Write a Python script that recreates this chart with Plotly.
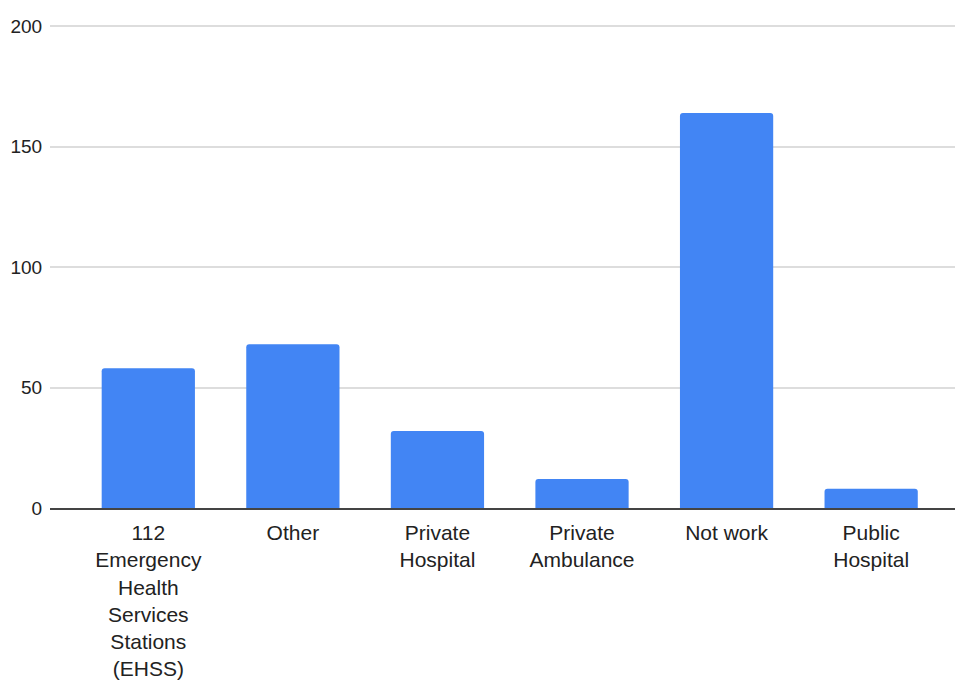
import plotly.graph_objects as go

categories = ["112<br>Emergency<br>Health<br>Services<br>Stations<br>(EHSS)", "Other",
              "Private<br>Hospital", "Private<br>Ambulance", "Not work", "Public<br>Hospital"]
values = [58, 68, 32, 12, 164, 8]
y_ticks = [0, 50, 100, 150, 200]

fig = go.Figure(go.Bar(x=list(range(len(categories))), y=values,
                       marker=dict(color="#4285F4", line=dict(width=0))))

font = "Liberation Sans, Arial, sans-serif"
fig.update_layout(
    width=955, height=687,
    margin=dict(l=50, r=0, t=23.6, b=179),
    plot_bgcolor="white", paper_bgcolor="white",
    bargap=0.355, barcornerradius=3,
    font=dict(family=font, size=21, color="#222222"),
    showlegend=False,
)
fig.update_xaxes(
    tickmode="array", tickvals=list(range(len(categories))), ticktext=categories,
    range=[-0.68, 5.58], showgrid=False, zeroline=False, automargin=False,
    showline=True, linecolor="#444444", linewidth=1.5,
    ticks="outside", ticklen=5, tickcolor="rgba(0,0,0,0)",
    tickfont=dict(size=21, color="#222222"),
)
fig.update_yaxes(
    range=[0, 201], tickvals=y_ticks, showgrid=True, gridcolor="#dddddd", gridwidth=1.5,
    zeroline=False, showline=False, automargin=False,
    ticks="outside", ticklen=3, tickcolor="rgba(0,0,0,0)",
    tickfont=dict(size=19, color="#222222"),
)
fig.write_html("out.html", config={"displayModeBar": False},
               post_script="document.body.style.margin='0';document.body.style.overflow='hidden';")
